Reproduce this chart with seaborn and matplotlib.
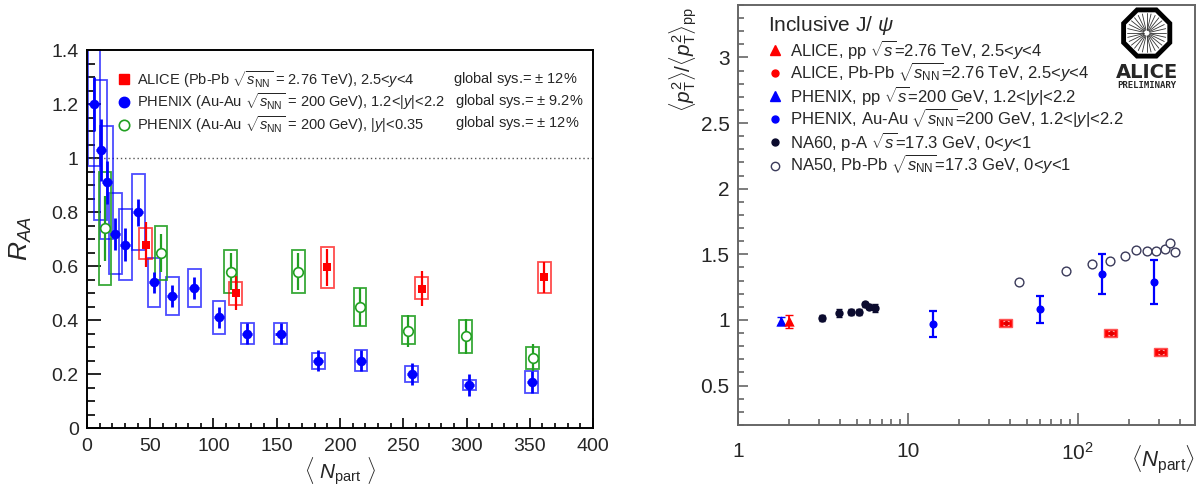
import numpy as np
import matplotlib
matplotlib.use('Agg')
import matplotlib.pyplot as plt
import seaborn as sns
from matplotlib.lines import Line2D
from matplotlib.patches import RegularPolygon
from matplotlib.ticker import MultipleLocator, FixedLocator, NullFormatter, FixedFormatter, FuncFormatter

# ---------------- Left panel data: R_AA vs <Npart> ----------------
alice_npart = [46.4, 117.5, 190.0, 264.5, 361.5]
alice_raa = [0.68, 0.50, 0.595, 0.517, 0.558]
alice_stat = [0.085, 0.062, 0.07, 0.064, 0.058]
alice_sys_lo = [0.625, 0.455, 0.52, 0.477, 0.50]
alice_sys_hi = [0.74, 0.542, 0.671, 0.56, 0.616]

phx_fwd_npart = [5.5, 10.8, 15.5, 22.4, 30.3, 40.6, 53.0, 67.4, 84.8, 104.3,
                 126.7, 153.0, 182.8, 216.6, 256.7, 302.2, 351.5]
phx_fwd_raa = [1.20, 1.03, 0.91, 0.72, 0.68, 0.80, 0.54, 0.49, 0.52, 0.41,
               0.35, 0.35, 0.25, 0.25, 0.20, 0.16, 0.17]
phx_fwd_stat = [0.10, 0.115, 0.08, 0.06, 0.06, 0.05, 0.04, 0.04, 0.04, 0.04,
                0.04, 0.04, 0.04, 0.04, 0.04, 0.04, 0.04]
phx_fwd_sys_lo = [0.97, 0.77, 0.70, 0.57, 0.55, 0.66, 0.45, 0.42, 0.45, 0.35,
                  0.31, 0.31, 0.22, 0.21, 0.17, 0.14, 0.13]
phx_fwd_sys_hi = [1.43, 1.29, 1.12, 0.87, 0.81, 0.94, 0.63, 0.56, 0.59, 0.47,
                  0.39, 0.39, 0.28, 0.29, 0.23, 0.18, 0.21]

phx_mid_npart = [14.2, 58.5, 113.6, 167.0, 215.8, 254.0, 299.4, 352.3]
phx_mid_raa = [0.74, 0.65, 0.58, 0.58, 0.45, 0.36, 0.34, 0.26]
phx_mid_stat = [0.12, 0.07, 0.07, 0.07, 0.07, 0.06, 0.065, 0.05]
phx_mid_sys_lo = [0.53, 0.55, 0.50, 0.50, 0.38, 0.31, 0.28, 0.22]
phx_mid_sys_hi = [0.95, 0.75, 0.66, 0.66, 0.52, 0.415, 0.40, 0.30]

left_labels = [r'ALICE (Pb-Pb $\sqrt{s_{\rm NN}}$ = 2.76 TeV), 2.5<$y$<4',
               r'PHENIX (Au-Au $\sqrt{s_{\rm NN}}$ = 200 GeV), 1.2<|$y$|<2.2',
               r'PHENIX (Au-Au $\sqrt{s_{\rm NN}}$ = 200 GeV), |$y$|<0.35']
left_globsys = [r'global sys.= $\pm$ 12%', r'global sys.= $\pm$ 9.2%', r'global sys.= $\pm$ 12%']

# ---------------- Right panel data: <pT^2>/<pT^2>pp vs <Npart> ----------------
alice_pp_x = [2.0]
alice_pp_y = [0.99]
alice_pp_err = [0.05]

phx_pp_x = [1.78]
phx_pp_y = [0.99]
phx_pp_err = [0.03]

alice_pb_x = [37.7, 156.0, 308.0]
alice_pb_y = [0.977, 0.90, 0.757]
alice_pb_sys = [0.03, 0.03, 0.03]

phx_au_x = [14.0, 60.3, 139.7, 280.0]
phx_au_y = [0.97, 1.08, 1.35, 1.29]
phx_au_err = [0.10, 0.105, 0.15, 0.17]

na60_x = [3.13, 3.94, 4.6, 5.15, 5.58, 5.92, 6.4]
na60_y = [1.015, 1.05, 1.06, 1.06, 1.12, 1.10, 1.09]
na60_err = [0.02, 0.03, 0.02, 0.02, 0.02, 0.02, 0.03]

na50_x = [45.0, 85.8, 120.5, 154.0, 189.0, 221.0, 254.0, 288.0, 325.0, 351.0, 372.0]
na50_y = [1.29, 1.37, 1.43, 1.45, 1.49, 1.53, 1.525, 1.525, 1.54, 1.59, 1.52]

right_labels = [r'ALICE, pp $\sqrt{s}$=2.76 TeV, 2.5<$y$<4',
                r'ALICE, Pb-Pb $\sqrt{s_{\rm NN}}$=2.76 TeV, 2.5<$y$<4',
                r'PHENIX, pp $\sqrt{s}$=200 GeV, 1.2<|$y$|<2.2',
                r'PHENIX, Au-Au $\sqrt{s_{\rm NN}}$=200 GeV, 1.2<|$y$|<2.2',
                r'NA60, p-A $\sqrt{s}$=17.3 GeV, 0<$y$<1',
                r'NA50, Pb-Pb $\sqrt{s_{\rm NN}}$=17.3 GeV, 0<$y$<1']

# ---------------- Style ----------------
sns.set_theme(style='white')
plt.rcParams['font.family'] = ['Liberation Sans', 'DejaVu Sans']
plt.rcParams['mathtext.fontset'] = 'custom'
plt.rcParams['mathtext.rm'] = 'Liberation Sans'
plt.rcParams['mathtext.it'] = 'Liberation Sans:italic'
plt.rcParams['mathtext.bf'] = 'Liberation Sans:bold'

RED = '#ff0000'
BLUE = '#0000ff'
GREEN = '#22a022'
NAVY = '#0b0b2e'
GREYC = '#3a3a5a'

fig = plt.figure(figsize=(11.98, 4.86), dpi=100)
axL = fig.add_axes([0.0726, 0.119, 0.4224, 0.778])
axR = fig.add_axes([0.616, 0.1255, 0.3815, 0.8645])

# ================= LEFT =================
axL.axhline(1.0, color='#555555', ls=(0, (1, 2)), lw=1.0, zorder=1)

def sys_boxes(ax, x, lo, hi, color, alpha):
    lo = np.asarray(lo); hi = np.asarray(hi)
    ax.bar(x, hi - lo, bottom=lo, width=10, fill=False, edgecolor=color,
           linewidth=1.3, alpha=alpha, zorder=2)

sys_boxes(axL, phx_fwd_npart, phx_fwd_sys_lo, phx_fwd_sys_hi, BLUE, 0.7)
sys_boxes(axL, phx_mid_npart, phx_mid_sys_lo, phx_mid_sys_hi, GREEN, 0.9)
sys_boxes(axL, alice_npart, alice_sys_lo, alice_sys_hi, RED, 0.7)

axL.errorbar(phx_fwd_npart, phx_fwd_raa, yerr=phx_fwd_stat, xerr=4, fmt='none',
             ecolor=BLUE, elinewidth=2, capsize=0, zorder=3)
axL.errorbar(phx_mid_npart, phx_mid_raa, yerr=phx_mid_stat, xerr=4, fmt='none',
             ecolor=GREEN, elinewidth=1.6, capsize=0, zorder=3)
axL.errorbar(alice_npart, alice_raa, yerr=alice_stat, fmt='none',
             ecolor=RED, elinewidth=1.6, capsize=0, zorder=3)

sns.scatterplot(x=phx_fwd_npart, y=phx_fwd_raa, ax=axL, marker='o', s=48,
                color=BLUE, edgecolor=BLUE, linewidth=0, legend=False, zorder=4)
sns.scatterplot(x=phx_mid_npart, y=phx_mid_raa, ax=axL, marker='o', s=48,
                facecolor='white', edgecolor=GREEN, linewidth=1.2, legend=False, zorder=4)
sns.scatterplot(x=alice_npart, y=alice_raa, ax=axL, marker='s', s=40,
                color=RED, edgecolor=RED, linewidth=0, legend=False, zorder=4)

axL.set_xlim(0, 400)
axL.set_ylim(0, 1.4)
axL.xaxis.set_major_locator(MultipleLocator(50))
axL.xaxis.set_minor_locator(MultipleLocator(10))
axL.yaxis.set_major_locator(MultipleLocator(0.2))
axL.yaxis.set_minor_locator(MultipleLocator(0.05))
axL.yaxis.set_major_formatter(FuncFormatter(lambda v, p: '%g' % round(v, 2)))
axL.tick_params(axis='both', which='both', direction='in', bottom=True, left=True,
                top=False, right=False, labelsize=14, color='black', width=1.2)
axL.tick_params(axis='y', which='major', length=10, pad=6)
axL.tick_params(axis='y', which='minor', length=5.5)
axL.tick_params(axis='x', which='major', length=7, pad=7)
axL.tick_params(axis='x', which='minor', length=3.5)
for s in axL.spines.values():
    s.set_color('black'); s.set_linewidth(1.4)

axL.set_ylabel(r'$R_{AA}$', fontsize=19)
axL.yaxis.set_label_coords(-0.105, 0.5)
axL.set_xlabel(r'$\langle$ $N_{\rm part}$ $\rangle$', fontsize=15)
axL.xaxis.set_label_coords(0.5, -0.07)

hL = [Line2D([], [], marker='s', color=RED, ls='none', ms=7),
      Line2D([], [], marker='o', color=BLUE, ls='none', ms=7.5),
      Line2D([], [], marker='o', mfc='white', mec=GREEN, mew=1.2, ls='none', ms=7.5)]
axL.legend(hL, left_labels, loc='upper left', bbox_to_anchor=(0.045, 0.965),
           frameon=False, fontsize=10.5, handletextpad=0.3, labelspacing=0.15,
           handlelength=1.2, borderaxespad=0)
gy = [0.923, 0.865, 0.807]
gx = [0.723, 0.728, 0.728]
for t, xx, yy in zip(left_globsys, gx, gy):
    axL.text(xx, yy, t, transform=axL.transAxes, fontsize=10.5, va='center', ha='left')

# ================= RIGHT =================
axR.set_xscale('log')
ax_f = 1.092
apx = np.asarray(alice_pb_x); apy = np.asarray(alice_pb_y); aps = np.asarray(alice_pb_sys)
axR.bar(apx / ax_f, 2 * aps, bottom=apy - aps, width=apx * ax_f - apx / ax_f, align='edge',
        color=RED, edgecolor='#ff5555', linewidth=1.0, zorder=2)
axR.errorbar(alice_pb_x, alice_pb_y, yerr=0.018, fmt='none', ecolor='#ffd0d0',
             elinewidth=0.8, capsize=2.5, zorder=3)
sns.scatterplot(x=alice_pb_x, y=alice_pb_y, ax=axR, marker='o', s=14, color='#e00000',
                linewidth=0, legend=False, zorder=4)

axR.errorbar(phx_pp_x, phx_pp_y, yerr=phx_pp_err, fmt='none', ecolor=BLUE,
             elinewidth=1.3, capsize=3, zorder=3)
sns.scatterplot(x=phx_pp_x, y=phx_pp_y, ax=axR, marker='^', s=55, color=BLUE,
                linewidth=0, legend=False, zorder=4)
axR.errorbar(alice_pp_x, alice_pp_y, yerr=alice_pp_err, fmt='none', ecolor=RED,
             elinewidth=1.3, capsize=3, zorder=3)
sns.scatterplot(x=alice_pp_x, y=alice_pp_y, ax=axR, marker='^', s=55, color=RED,
                linewidth=0, legend=False, zorder=4)

axR.errorbar(na60_x, na60_y, yerr=na60_err, fmt='none', ecolor=NAVY,
             elinewidth=1.3, capsize=2.5, zorder=3)
sns.scatterplot(x=na60_x, y=na60_y, ax=axR, marker='o', s=36, color=NAVY,
                linewidth=0, legend=False, zorder=4)

axR.errorbar(phx_au_x, phx_au_y, yerr=phx_au_err, fmt='none', ecolor=BLUE,
             elinewidth=1.6, capsize=3, capthick=1.6, zorder=3)
sns.scatterplot(x=phx_au_x, y=phx_au_y, ax=axR, marker='o', s=34, color=BLUE,
                linewidth=0, legend=False, zorder=4)

sns.scatterplot(x=na50_x, y=na50_y, ax=axR, marker='o', s=40, facecolor='white',
                edgecolor=GREYC, linewidth=1.0, legend=False, zorder=4)

axR.set_xlim(1, 490)
axR.set_ylim(0.2, 3.4)
axR.xaxis.set_major_locator(FixedLocator([1, 10, 100]))
axR.xaxis.set_major_formatter(FixedFormatter(['1', '10', r'$10^2$']))
axR.xaxis.set_minor_locator(FixedLocator([2, 3, 4, 5, 6, 7, 8, 9, 20, 30, 40, 50, 60, 70, 80, 90,
                                          200, 300, 400]))
axR.xaxis.set_minor_formatter(NullFormatter())
axR.yaxis.set_major_locator(MultipleLocator(0.5))
axR.yaxis.set_minor_locator(MultipleLocator(0.1))
axR.yaxis.set_major_formatter(FuncFormatter(lambda v, p: '%g' % round(v, 2)))
axR.tick_params(axis='both', which='both', direction='in', bottom=True, left=True,
                top=False, right=False, labelsize=15, color='#666666', width=1.2)
axR.tick_params(axis='y', which='major', length=7.5, pad=6)
axR.tick_params(axis='y', which='minor', length=4)
axR.tick_params(axis='x', which='major', length=9, pad=12)
axR.tick_params(axis='x', which='minor', length=4)
for s in axR.spines.values():
    s.set_color('#666666'); s.set_linewidth(1.4)

axR.set_ylabel(r'$\langle p_{\rm T}^{2}\rangle/\langle p_{\rm T}^{2}\rangle_{\rm pp}$',
               fontsize=15, loc='top')
axR.yaxis.set_label_coords(-0.085, 0.995)
axR.set_xlabel(r'$\langle N_{\rm part}\rangle$', fontsize=16, loc='right')
axR.xaxis.set_label_coords(1.0, -0.045)

axR.text(0.066, 0.952, r'Inclusive J/ $\psi$', transform=axR.transAxes, fontsize=15,
         ha='left', va='center')
hR = [Line2D([], [], marker='^', color=RED, ls='none', ms=7),
      Line2D([], [], marker='o', color=RED, ls='none', ms=5),
      Line2D([], [], marker='^', color=BLUE, ls='none', ms=7),
      Line2D([], [], marker='o', color=BLUE, ls='none', ms=5),
      Line2D([], [], marker='o', color=NAVY, ls='none', ms=5),
      Line2D([], [], marker='o', mfc='white', mec=GREYC, mew=1.0, ls='none', ms=6)]
axR.legend(hR, right_labels, loc='upper left', bbox_to_anchor=(0.045, 0.938),
           frameon=False, fontsize=12, handletextpad=0.3, labelspacing=0.0,
           handlelength=1.2, borderaxespad=0)

# ALICE logo (decoration)
logo = fig.add_axes([(1146.7 - 30) / 1198, 1 - (33 + 30) / 486, 60 / 1198, 60 / 486])
logo.set_xlim(-1.2, 1.2); logo.set_ylim(-1.2, 1.2); logo.set_aspect('equal')
logo.axis('off')
logo.add_patch(RegularPolygon((0, 0), numVertices=8, radius=1.0, orientation=np.pi / 8,
                              fill=False, lw=3.5, ec='black'))
for a in np.linspace(0, 2 * np.pi, 28, endpoint=False):
    logo.plot([0.12 * np.cos(a), 0.78 * np.cos(a)], [0.12 * np.sin(a), 0.78 * np.sin(a)],
              color='#333333', lw=0.6)
fig.text(1146.7 / 1198, 1 - 73 / 486, 'ALICE', fontsize=14, fontweight='bold',
         family='DejaVu Sans', ha='center', va='center')
fig.text(1146.7 / 1198, 1 - 86 / 486, 'PRELIMINARY', fontsize=6.5, fontweight='bold',
         family='DejaVu Sans Mono', ha='center', va='center')

fig.savefig('out.png', dpi=100)
